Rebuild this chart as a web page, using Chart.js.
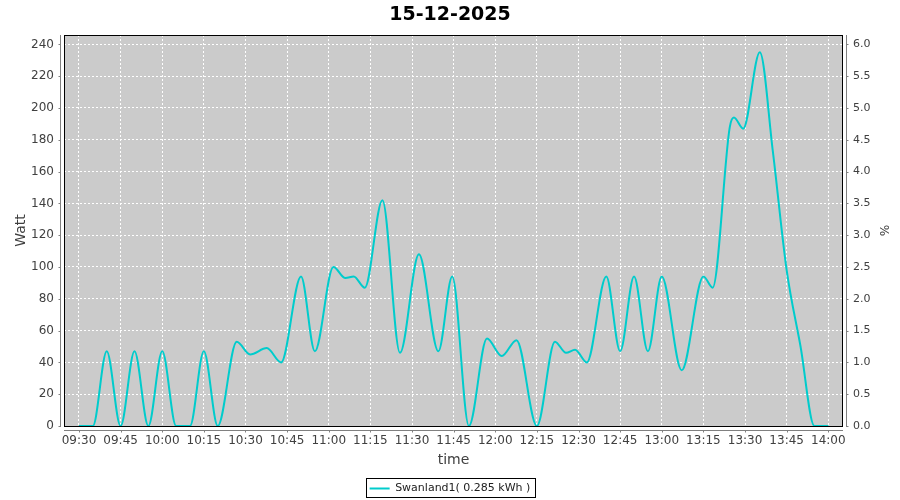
<!DOCTYPE html>
<html>
<head>
<meta charset="utf-8">
<script src="https://cdn.jsdelivr.net/npm/chart.js@4/dist/chart.umd.min.js"></script>
<style>
    body { margin: 0; background: #fff; }
</style>
</head>
<body>
<canvas id="myChart" width="900" height="500"></canvas>
<script>
// Readings (time of day, watt)
const times = ['09:30', '09:35', '09:40', '09:45', '09:50', '09:55', '10:00', '10:05', '10:10', '10:15',
    '10:20', '10:26:50', '10:31:40', '10:37:40', '10:42:50', '10:50', '10:55', '11:01:40', '11:06', '11:09',
    '11:13', '11:19:20', '11:25:40', '11:32:30', '11:39:30', '11:44:30', '11:50:30', '11:57', '12:02:20', '12:07:40',
    '12:15', '12:21:30', '12:25:30', '12:28:45', '12:33', '12:40', '12:45', '12:50', '12:55', '13:00',
    '13:07:10', '13:15', '13:18:20', '13:24:30', '13:26', '13:29:20', '13:35:20', '13:40', '13:45', '13:50',
    '13:55', '14:00'];
const watts = [0, 0, 47, 0, 47, 0, 47, 0, 0, 47,
    0, 53, 45, 49, 40, 94, 47, 100, 93, 94,
    87, 142, 46, 108, 47, 94, 0, 55, 44, 54,
    0, 53, 46, 48, 40, 94, 47, 94, 47, 94,
    35, 94, 87, 188, 194, 187, 235, 173, 98, 50,
    0, 0];

const timeTicks = ['09:30', '09:45', '10:00', '10:15', '10:30', '10:45', '11:00', '11:15', '11:30', '11:45',
    '12:00', '12:15', '12:30', '12:45', '13:00', '13:15', '13:30', '13:45', '14:00'];
const wattTicks = [0, 20, 40, 60, 80, 100, 120, 140, 160, 180, 200, 220, 240];
const pctTicks = [0, 0.5, 1, 1.5, 2, 2.5, 3, 3.5, 4, 4.5, 5, 5.5, 6];

const chartTitle = '15-12-2025';
const seriesLabel = 'Swanland1( 0.285 kWh )';

function toMin(s) {
    const p = s.split(':').map(Number);
    return p[0] * 60 + p[1] + (p[2] || 0) / 60;
}
function fmtTime(m) {
    const h = Math.floor(m / 60);
    const mm = Math.round(m - h * 60);
    return String(h).padStart(2, '0') + ':' + String(mm).padStart(2, '0');
}

const tickFont = { family: '"DejaVu Sans"', size: 12 };
const tickColor = '#404040';

// gray plot background, black frame, offset axis lines, legend frame
const plotFrame = {
    id: 'plotFrame',
    beforeDraw(chart) {
        const { ctx, chartArea: a } = chart;
        ctx.save();
        ctx.fillStyle = '#fff';
        ctx.fillRect(0, 0, chart.width, chart.height);
        ctx.fillStyle = '#cbcbcb';
        ctx.fillRect(a.left, a.top, a.right - a.left, a.bottom - a.top);
        ctx.restore();
    },
    beforeDatasetsDraw(chart) {
        const { ctx, chartArea: a } = chart;
        ctx.save();
        ctx.strokeStyle = '#000';
        ctx.lineWidth = 1;
        ctx.strokeRect(a.left + 0.5, a.top + 0.5, a.right - a.left - 1, a.bottom - a.top);
        ctx.restore();
    },
    afterDraw(chart) {
        const { ctx, chartArea: a, scales } = chart;
        ctx.save();
        ctx.strokeStyle = '#808080';
        ctx.lineWidth = 1;
        const lx = a.left - 3.5, rx = a.right + 3.5, by = a.bottom + 4.5;
        ctx.beginPath();
        ctx.moveTo(lx, a.top); ctx.lineTo(lx, a.bottom + 1);
        ctx.moveTo(rx, a.top); ctx.lineTo(rx, a.bottom + 1);
        ctx.moveTo(a.left, by); ctx.lineTo(a.right, by);
        scales.y.ticks.forEach(t => {
            const y = Math.round(scales.y.getPixelForValue(t.value)) + 0.5;
            ctx.moveTo(lx - 2, y); ctx.lineTo(lx, y);
        });
        scales.y2.ticks.forEach(t => {
            const y = Math.round(scales.y2.getPixelForValue(t.value)) + 0.5;
            ctx.moveTo(rx, y); ctx.lineTo(rx + 2, y);
        });
        scales.x.ticks.forEach(t => {
            const x = Math.round(scales.x.getPixelForValue(t.value)) + 0.5;
            ctx.moveTo(x, by); ctx.lineTo(x, by + 2);
        });
        ctx.stroke();

        const hb = chart.legend.legendHitBoxes[0];
        if (hb) {
            ctx.strokeStyle = '#000';
            ctx.strokeRect(Math.round(hb.left) - 3.5, Math.round(hb.top) - 4.5, Math.round(hb.width) + 8, Math.round(hb.height) + 8);
        }
        ctx.restore();
    }
};

new Chart(document.getElementById('myChart'), {
    type: 'line',
    data: {
        datasets: [{
            label: seriesLabel,
            data: times.map((t, i) => ({ x: toMin(t), y: watts[i] })),
            borderColor: '#00cccc',
            backgroundColor: '#00cccc',
            borderWidth: 2,
            pointRadius: 0,
            cubicInterpolationMode: 'monotone',
            fill: false,
            yAxisID: 'y'
        }]
    },
    options: {
        responsive: false,
        animation: false,
        devicePixelRatio: 1,
        layout: { padding: { top: 0, left: 0, right: 0, bottom: -4 } },
        plugins: {
            title: {
                display: true,
                text: chartTitle,
                color: '#000',
                font: { family: '"DejaVu Sans"', size: 19, weight: 'bold' },
                padding: { top: 4, bottom: 8.2 }
            },
            legend: {
                position: 'bottom',
                labels: {
                    color: '#202020',
                    font: { family: '"DejaVu Sans"', size: 11 },
                    usePointStyle: true,
                    pointStyle: 'line',
                    pointStyleWidth: 20,
                    padding: 10
                }
            },
            tooltip: { enabled: false }
        },
        scales: {
            x: {
                type: 'linear',
                position: 'bottom',
                min: 564.6,
                max: 845.3,
                afterBuildTicks: s => { s.ticks = timeTicks.map(t => ({ value: toMin(t) })); },
                afterFit: s => { s.height = 47; },
                ticks: {
                    callback: v => fmtTime(v),
                    font: tickFont,
                    color: tickColor,
                    padding: 8,
                    maxRotation: 0,
                    autoSkip: false
                },
                grid: { color: '#ffffff', drawTicks: false },
                border: { display: false, dash: [2, 2] },
                title: {
                    display: true,
                    text: 'time',
                    color: tickColor,
                    font: { family: '"DejaVu Sans"', size: 14 },
                    padding: { top: 0, bottom: 4.6 }
                }
            },
            y: {
                position: 'left',
                min: 0,
                max: 245.9,
                afterBuildTicks: s => { s.ticks = wattTicks.map(v => ({ value: v })); },
                afterFit: s => { s.width = 64; },
                ticks: { font: tickFont, color: tickColor, padding: 10 },
                grid: { color: '#ffffff', drawTicks: false },
                border: { display: false, dash: [2, 2] },
                title: {
                    display: true,
                    text: 'Watt',
                    color: tickColor,
                    font: { family: '"DejaVu Sans"', size: 14 },
                    padding: { top: 13, bottom: 0 }
                }
            },
            y2: {
                position: 'right',
                min: 0,
                max: 6.1475,
                afterBuildTicks: s => { s.ticks = pctTicks.map(v => ({ value: v })); },
                afterFit: s => { s.width = 57; },
                ticks: { font: { family: '"DejaVu Sans"', size: 11 }, color: tickColor, padding: 10, callback: v => v.toFixed(1) },
                grid: { display: false, drawTicks: false },
                border: { display: false },
                title: {
                    display: true,
                    text: '%',
                    color: tickColor,
                    font: { family: '"DejaVu Sans"', size: 12 },
                    padding: { top: 10, bottom: 0 }
                }
            }
        }
    },
    plugins: [plotFrame]
});
</script>
</body>
</html>
